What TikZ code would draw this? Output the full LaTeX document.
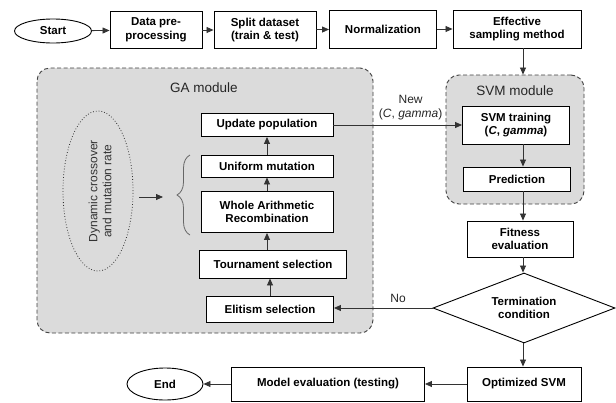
\documentclass[tikz,border=0pt]{standalone}
\usepackage{fontspec}
\setmainfont{Liberation Sans}
\usetikzlibrary{shapes.geometric,arrows.meta,decorations.pathreplacing,calc}
\begin{document}
\begin{tikzpicture}[x=1pt,y=-1pt,
  box/.style={draw=black,line width=0.9pt,fill=white,align=center,inner sep=0pt,
    font=\bfseries\fontsize{11.5}{13.5}\selectfont},
  term/.style={draw=black,line width=0.9pt,fill=white,ellipse,inner sep=0pt,
    font=\bfseries\fontsize{11.5}{13.5}\selectfont},
  module/.style={draw=black!75,line width=0.9pt,fill=black!14,dash pattern=on 4pt off 2.5pt,
    rounded corners=13pt,inner sep=0pt},
  modlabel/.style={font=\fontsize{13.5}{15}\selectfont,text=black!85},
  arr/.style={line width=0.8pt,draw=black!80,-{Triangle[length=7pt,width=6pt]}},
  lbl/.style={font=\fontsize{12}{14}\selectfont,align=center,text=black!85}]
\useasboundingbox (0,0) rectangle (616,402);
% modules (backgrounds)
\node[module,minimum width=336pt,minimum height=265pt] (ga) at (205,200.5) {};
\node[modlabel] (galbl) at (204,88) {GA module};
\node[module,minimum width=138pt,minimum height=129pt] (svm) at (515,139.5) {};
\node[modlabel] (svmlbl) at (515,91) {SVM module};
% top row
\node[term,minimum width=77pt,minimum height=24pt] (start) at (53,31) {Start};
\node[box,minimum width=92pt,minimum height=37pt] (prep) at (156,30) {Data pre-\\processing};
\node[box,minimum width=102pt,minimum height=37pt] (split) at (265,30) {Split dataset\\(train \& test)};
\node[box,minimum width=107pt,minimum height=38pt] (norm) at (383,29) {Normalization};
\node[box,minimum width=128pt,minimum height=38pt] (samp) at (517,29) {Effective\\sampling method};
% GA internal
\node[box,minimum width=132pt,minimum height=23pt] (upd) at (267,125) {Update population};
\node[box,minimum width=132pt,minimum height=22pt] (unif) at (267,166) {Uniform mutation};
\node[box,minimum width=132pt,minimum height=41pt] (war) at (267,212) {Whole Arithmetic\\Recombination};
\node[box,minimum width=147pt,minimum height=28pt] (tour) at (273,264) {Tournament selection};
\node[box,minimum width=127pt,minimum height=26pt] (elit) at (270,309) {Elitism selection};
\node[draw=black!80,line width=0.8pt,dotted,ellipse,minimum width=70pt,minimum height=160pt,inner sep=0pt] (dyn) at (98,191) {};
\node[rotate=90,align=center,font=\fontsize{12}{14}\selectfont,text=black!80] (dyntxt) at (100,191) {Dynamic crossover\\and mutation rate};
\coordinate (btop) at (190,155);
\coordinate (bbot) at (190,235);
\draw[draw=black!60,line width=0.8pt,decorate,decoration={brace,amplitude=13pt}] (bbot) -- (btop);
\coordinate (btip) at (163,197);
% SVM side
\coordinate (cx) at (523,0);
\node[box,minimum width=107pt,minimum height=38pt] (train) at (516,125) {SVM training\\(\textit{C}, \textit{gamma})};
\node[box,minimum width=107pt,minimum height=24pt] (pred) at (517,179) {Prediction};
\node[box,minimum width=106pt,minimum height=36pt] (fit) at (520,239) {Fitness\\evaluation};
\node[draw=black,line width=0.9pt,fill=white,diamond,aspect=2.6,inner sep=0pt,
  minimum width=182pt,minimum height=70pt,align=center,
  font=\bfseries\fontsize{11.5}{13.5}\selectfont] (termc) at (524,308) {Termination\\condition};
\node[box,minimum width=114pt,minimum height=34pt] (opt) at (524,384) {Optimized SVM};
\node[box,minimum width=193pt,minimum height=34pt] (meval) at (328,384) {Model evaluation (testing)};
\node[term,minimum width=76pt,minimum height=32pt] (endn) at (165,384) {End};
% connectors top row
\draw[arr] (start) -- (prep);
\draw[arr] (prep) -- (split);
\draw[arr] (split) -- (norm);
\draw[arr] (norm) -- (samp);
\draw[arr] (samp.south -| cx) -- (svm.north -| cx);
% GA chain
\draw[arr] (elit) -- (elit.north |- tour.south);
\draw[arr] (tour.north -| war) -- (war.south);
\draw[arr] (war) -- (unif);
\draw[arr] (unif) -- (upd);
\draw[arr] ($(dyn.east)+(6,6)$) -- (btip);
% SVM chain
\draw[arr] (upd.east) -- (upd.east -| train.west)
  node[lbl,pos=0.6,above=1pt] (newlbl) {New\\(\textit{C}, \textit{gamma})};
\draw[arr] (train.south -| cx) -- (pred.north -| cx);
\draw[arr] (pred.south -| cx) -- (fit.north -| cx);
\draw[arr] (fit.south -| cx) -- (termc.north -| cx);
\draw[arr] (termc.south -| cx) -- (opt.north -| cx);
\draw[arr] (termc.west) -- (termc.west -| elit.east)
  node[lbl,pos=0.35,above=2pt] (nolbl) {No};
\draw[arr] (opt) -- (meval);
\draw[arr] (meval) -- (endn);
\end{tikzpicture}
\end{document}
